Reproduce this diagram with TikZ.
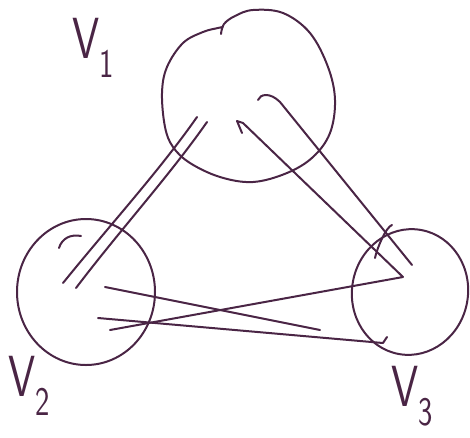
\documentclass[tikz,border=0pt]{standalone}
\usetikzlibrary{shapes.geometric}
\definecolor{ink}{HTML}{4A2545}
\begin{document}
\begin{tikzpicture}[x=1pt,y=-1pt,
  inkline/.style={draw=ink,line width=2pt,line cap=round,line join=round},
  vertex/.style={ellipse,inkline,inner sep=0pt},
  vlabel/.style={text=ink,font=\sffamily\fontsize{58}{58}\selectfont,xscale=0.75,inner sep=0pt,anchor=north west}]
\useasboundingbox (0,0) rectangle (470,437);
% vertices
\node[ellipse,inner sep=0pt,minimum width=172pt,minimum height=174pt] (v1) at (249,97) {};
\draw[inkline] plot[smooth,tension=0.6] coordinates {(221,34) (224,24) (235,16) (253,10) (283,13) (310,33) (328,67) (335,100) (330,133) (313,157) (287,173) (253,182) (220,177) (190,163) (173,147) (165,127) (162,93) (167,67) (183,43) (203,32) (218,28) (223,27)};
\node[vertex,minimum width=138pt,minimum height=146pt] (v2) at (86,292) {};
\node[vertex,minimum width=116pt,minimum height=126pt,rotate=-10] (v3) at (410,292) {};
% small overlaps of the hand-drawn outlines
\draw[inkline] (v2.center) ++(-27,-44) .. controls ++(3,-10) and ++(-10,-2) .. ++(22,-12);
\draw[inkline] (v3.center) ++(-18,-67) .. controls ++(-6,2) and ++(2,-10) .. ++(-17,33);
% labels
\node[vlabel] (l1) at (72,18) {V\textsubscript{1}};
\node[vlabel] (l2) at (8,356) {V\textsubscript{2}};
\node[vlabel] (l3) at (391,366) {V\textsubscript{3}};
% connector end points
\coordinate (a1) at (197,117); \coordinate (a2) at (63,283);
\coordinate (b1) at (207,122); \coordinate (b2) at (76,288);
\coordinate (c0) at (242,133); \coordinate (c1) at (237,121);
\coordinate (c2) at (403,277); \coordinate (c3) at (110,330);
\coordinate (d0) at (258,100); \coordinate (d1) at (412,265);
\coordinate (e1) at (105,287); \coordinate (e2) at (320,330);
\coordinate (f1) at (98,318); \coordinate (f2) at (383,343);
% v1 -- v2
\draw[inkline] (a1) .. controls (160,170) and (110,225) .. (a2);
\draw[inkline] (b1) .. controls (170,175) and (120,230) .. (b2);
% v1 -- v3 -- v2
\draw[inkline] (c0) -- (c1) -- (243,123) -- (c2) -- (c3);
\draw[inkline] (d0) .. controls (260,94) and (270,92) .. (280,102) -- (d1);
% v2 -- v3
\draw[inkline] (e1) -- (e2);
\draw[inkline] (f1) -- (f2) -- ++(4,-6);
\end{tikzpicture}
\end{document}
